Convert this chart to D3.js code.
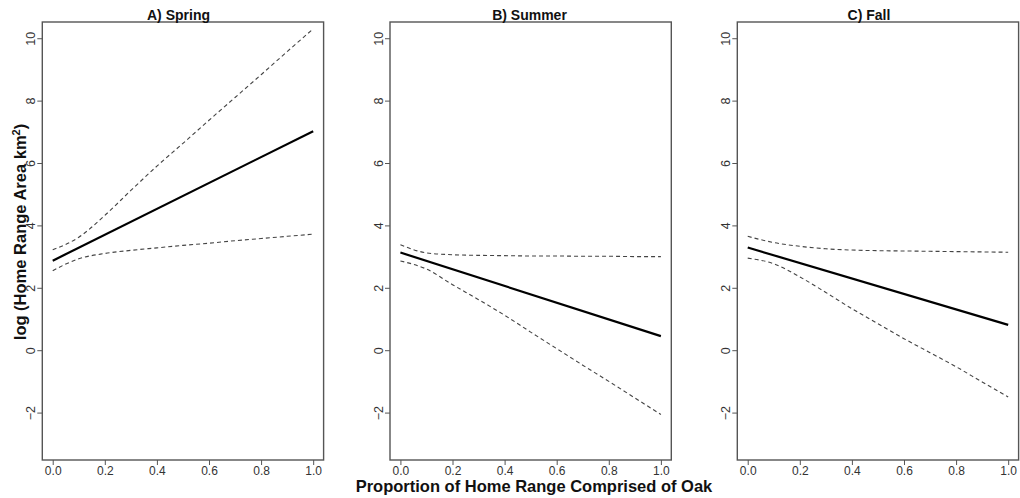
<!DOCTYPE html>
<html>
<head>
<meta charset="utf-8">
<script src="https://cdn.jsdelivr.net/npm/d3@7"></script>
<style>
  html, body { margin: 0; padding: 0; background: #fff; }
  svg { display: block; font-family: "Liberation Sans", Arial, sans-serif; }
</style>
</head>
<body>
<svg id="chart" width="1020" height="498"></svg>
<script>
// Predicted log home-range area vs. proportion of oak, by season
const panelTitles = ["A) Spring", "B) Summer", "C) Fall"];

// x positions of the confidence-band readings
const xGrid = [0, 0.1, 0.2, 0.3, 0.4, 0.5, 0.6, 0.7, 0.8, 0.9, 1.0];

// fitted lines (straight) at x = 0 and x = 1
const fitX = [0, 1];
const springFit = [2.87, 7.02];
const summerFit = [3.13, 0.45];
const fallFit   = [3.29, 0.81];

// 95% confidence bands
const springUpper = [3.22, 3.62, 4.32, 5.12, 5.90, 6.63, 7.37, 8.10, 8.83, 9.57, 10.30];
const springLower = [2.55, 2.93, 3.10, 3.20, 3.28, 3.36, 3.43, 3.51, 3.58, 3.65, 3.72];
const summerUpper = [3.38, 3.12, 3.06, 3.04, 3.03, 3.02, 3.02, 3.01, 3.01, 3.00, 3.00];
const summerLower = [2.86, 2.60, 2.10, 1.62, 1.12, 0.58, 0.05, -0.48, -1.00, -1.53, -2.06];
const fallUpper   = [3.65, 3.45, 3.33, 3.25, 3.21, 3.19, 3.18, 3.17, 3.16, 3.15, 3.14];
const fallLower   = [2.95, 2.77, 2.35, 1.85, 1.33, 0.85, 0.37, -0.08, -0.53, -1.02, -1.50];

const xTicks = [0, 0.2, 0.4, 0.6, 0.8, 1.0];
const yTicks = [-2, 0, 2, 4, 6, 8, 10];

const panels = [
  { title: panelTitles[0], fit: springFit, upper: springUpper, lower: springLower },
  { title: panelTitles[1], fit: summerFit, upper: summerUpper, lower: summerLower },
  { title: panelTitles[2], fit: fallFit,   upper: fallUpper,   lower: fallLower }
];

const svg = d3.select("#chart");
const boxLefts = [42.3, 390, 737.3];
const titleCenters = [178.5, 529.5, 869];
const boxW = 281.3;
const plotTop = 22, plotBottom = 460;

const y = d3.scaleLinear().domain([-3.52, 10.52]).range([plotBottom, plotTop]);

panels.forEach((p, i) => {
  const left = boxLefts[i];
  const x = d3.scaleLinear().domain([-0.04, 1.04]).range([left, left + boxW]);
  const g = svg.append("g");

  // y axis
  const ya = g.append("g")
    .attr("transform", `translate(${left},0)`)
    .call(d3.axisLeft(y).tickValues(yTicks).tickSize(5).tickSizeOuter(0).tickFormat(d3.format("d")));
  ya.select(".domain").remove();
  ya.selectAll(".tick line").attr("stroke", "#555").attr("stroke-width", 1);
  ya.selectAll(".tick text")
    .attr("x", null)
    .attr("transform", "translate(-12,0) rotate(-90)")
    .attr("text-anchor", "middle")
    .attr("dy", "0.36em")
    .attr("fill", "#333")
    .attr("font-size", 12.5);

  // x axis
  const xa = g.append("g")
    .attr("transform", `translate(0,${plotBottom})`)
    .call(d3.axisBottom(x).tickValues(xTicks).tickSize(5).tickPadding(1.5).tickFormat(d3.format(".1f")));
  xa.select(".domain").remove();
  xa.selectAll(".tick line").attr("stroke", "#555").attr("stroke-width", 1);
  xa.selectAll(".tick text").attr("fill", "#333").attr("font-size", 12);

  // plot frame
  g.append("rect")
    .attr("x", left).attr("y", plotTop)
    .attr("width", boxW).attr("height", plotBottom - plotTop)
    .attr("fill", "none").attr("stroke", "#555").attr("stroke-width", 1.4);

  const band = d3.line()
    .x((d, j) => x(xGrid[j]))
    .y(d => y(d))
    .curve(d3.curveMonotoneX);

  [p.upper, p.lower].forEach(arr => {
    g.append("path")
      .datum(arr)
      .attr("d", band)
      .attr("fill", "none")
      .attr("stroke", "#444")
      .attr("stroke-width", 1.1)
      .attr("stroke-dasharray", "4,3");
  });

  const fitLine = d3.line().x((d, j) => x(fitX[j])).y(d => y(d));
  g.append("path")
    .datum(p.fit)
    .attr("d", fitLine)
    .attr("fill", "none")
    .attr("stroke", "#000")
    .attr("stroke-width", 2.2);

  g.append("text")
    .attr("x", titleCenters[i])
    .attr("y", 19.5)
    .attr("text-anchor", "middle")
    .attr("font-weight", "bold")
    .attr("font-size", 14)
    .attr("fill", "#111")
    .text(p.title);
});

// axis titles
svg.append("text")
  .attr("x", 534)
  .attr("y", 492)
  .attr("text-anchor", "middle")
  .attr("font-weight", "bold")
  .attr("font-size", 16.5)
  .attr("fill", "#111")
  .text("Proportion of Home Range Comprised of Oak");

const yl = svg.append("text")
  .attr("transform", "translate(26,232) rotate(-90)")
  .attr("text-anchor", "middle")
  .attr("font-weight", "bold")
  .attr("font-size", 16.5)
  .attr("fill", "#111");
yl.append("tspan").text("log (Home Range Area km");
yl.append("tspan").attr("font-size", 11).attr("dy", "-0.55em").text("2");
yl.append("tspan").attr("dy", "0.37em").text(")");
</script>
</body>
</html>
